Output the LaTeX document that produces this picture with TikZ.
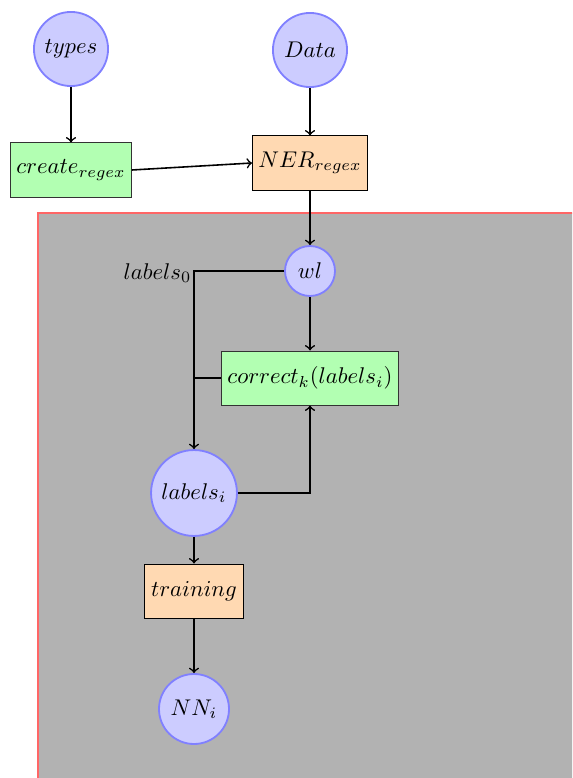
\documentclass[tikz,border=0pt]{standalone}
\usetikzlibrary{calc}
\begin{document}
\begin{tikzpicture}[x=0.44pt,y=-0.44pt,
  var/.style={circle,draw=blue!50,fill=blue!20,thick,inner sep=1pt},
  proc/.style={rectangle,draw=black!80,fill=green!30,inner sep=2pt,minimum height=23.8pt},
  task/.style={rectangle,draw=black,fill=orange!30,inner sep=2pt,minimum height=23.8pt},
  flow/.style={->,line width=0.7pt},
  link/.style={line width=0.7pt}]
  % page area
  \clip (0,0) rectangle (572,778);
  % shaded region holding the iterative part
  \draw[draw=red!60,thick,fill=black!30] (38,213) rectangle (620,820);

  % inputs
  \node[var,minimum size=32.6pt] (types) at (71,49) {$types$};
  \node[var,minimum size=32.6pt] (data) at (310,50) {$Data$};
  \node[proc,minimum width=53.2pt] (create) at (71,170) {$create_{regex}$};
  \node[task,minimum width=50.6pt] (ner) at (310,163) {$NER_{regex}$};

  % iteration
  \node[var,minimum size=22pt] (wl) at (310,271) {$wl$};
  \node[proc,minimum width=77.9pt] (correct) at (310,378) {$correct_k(labels_i)$};
  \node[var,minimum size=37.8pt] (labels) at (194,493) {$labels_i$};
  \node[task,minimum width=43.6pt] (training) at (194,591) {$training$};
  \node[var,minimum size=30.8pt] (nn) at (194,709) {$NN_i$};

  \coordinate (corner) at (labels.north |- wl.west);
  \coordinate (join) at (labels.north |- correct.west);
  \node[anchor=east,inner sep=1pt] (l0) at ($(corner)+(0,2)$) {$labels_0$};

  % connectors
  \draw[flow] (types) -- (create);
  \draw[flow] (data) -- (ner);
  \draw[flow] (create.east) -- (ner.west);
  \draw[flow] (ner) -- (wl);
  \draw[flow] (wl) -- (correct);
  \draw[flow] (wl.west) -- (corner) -- (labels.north);
  \draw[link] (correct.west) -- (join);
  \draw[flow] (labels.east) -| (correct.south);
  \draw[flow] (labels) -- (training);
  \draw[flow] (training) -- (nn);
\end{tikzpicture}
\end{document}
